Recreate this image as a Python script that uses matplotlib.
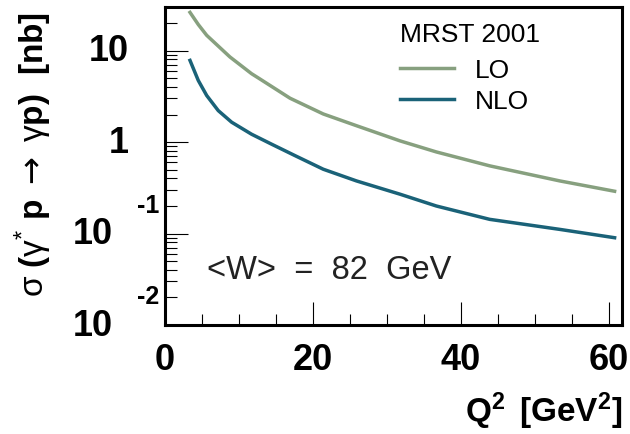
import matplotlib
matplotlib.use("Agg")
import matplotlib.pyplot as plt
import matplotlib.transforms as mtrans
import numpy as np

plt.rcParams['font.family'] = ['Liberation Sans', 'DejaVu Sans']
plt.rcParams['mathtext.fontset'] = 'custom'
plt.rcParams['mathtext.rm'] = 'Liberation Sans'
plt.rcParams['mathtext.bf'] = 'Liberation Sans:bold'
plt.rcParams['mathtext.it'] = 'Liberation Sans:italic'
plt.rcParams['mathtext.sf'] = 'DejaVu Sans'
plt.rcParams['mathtext.default'] = 'rm'

# Q^2 values [GeV^2] and cross sections [nb]
q2_lo = [3.38, 4.5, 5.64, 8.78, 11.7, 12.8, 16.9, 21.4, 25.9, 31.8, 36.7, 43.9, 53.4, 60.8]
sigma_lo = [26.2, 19.3, 14.7, 8.53, 5.6, 4.92, 3.02, 2.03, 1.51, 1.03, 0.78, 0.55, 0.376, 0.29]
q2_nlo = [3.38, 4.5, 5.64, 7.2, 9.01, 11.7, 14.4, 17.6, 21.4, 25.9, 31.8, 36.7, 43.9, 53.4, 60.8]
sigma_nlo = [7.82, 4.72, 3.23, 2.21, 1.65, 1.22, 0.95, 0.71, 0.505, 0.376, 0.269, 0.20, 0.143, 0.111, 0.090]

col_lo = '#87a07f'
col_nlo = '#1a6278'

x_major = [0, 20, 40, 60]
x_labels = ['0', '20', '40', '60']

fig = plt.figure(figsize=(6.3, 4.35), dpi=100)
ax = fig.add_axes([165/630, 1-326/435, 457/630, 318/435])

ax.plot(q2_lo, sigma_lo, color=col_lo, lw=2.5, label='LO')
ax.plot(q2_nlo, sigma_nlo, color=col_nlo, lw=2.5, label='NLO')

ax.set_yscale('log')
ax.set_xlim(0, 61.8)
ax.set_ylim(0.01, 30)

for s in ['left', 'bottom', 'right', 'top']:
    ax.spines[s].set_linewidth(2.2)

ax.set_xticks(x_major)
ax.set_xticklabels(x_labels, fontsize=26, fontweight='bold')
ax.set_xticks(np.arange(5, 61, 5), minor=True)
ax.tick_params(axis='x', which='major', direction='in', length=16.5, width=0.8, pad=12)
ax.tick_params(axis='x', which='minor', direction='in', length=8, width=0.8)
ax.tick_params(axis='y', which='major', direction='in', length=16.5, width=0.8)
ax.tick_params(axis='y', which='minor', direction='in', length=8.5, width=0.8)
ax.yaxis.set_major_locator(matplotlib.ticker.LogLocator(base=10, numticks=10))
ax.yaxis.set_minor_locator(matplotlib.ticker.LogLocator(base=10, subs=np.arange(2, 10), numticks=10))
ax.yaxis.set_major_formatter(matplotlib.ticker.NullFormatter())
ax.yaxis.set_minor_formatter(matplotlib.ticker.NullFormatter())

# ROOT style y tick labels
ytr = ax.get_yaxis_transform()
ax.text(-0.080, 10, '10', transform=ytr, ha='right', va='center', fontsize=26, fontweight='bold')
ax.text(-0.080, 1, '1', transform=ytr, ha='right', va='center', fontsize=26, fontweight='bold')
for val, exp in [(0.1, '-1'), (0.01, '-2')]:
    ax.text(-0.113, val, '10', transform=ytr, ha='right', va='center', fontsize=26, fontweight='bold')
    up = mtrans.offset_copy(ytr, fig=fig, x=0, y=29, units='dots')
    ax.text(-0.013, val, exp, transform=up, ha='right', va='center', fontsize=18, fontweight='bold')

leg = ax.legend(title='MRST 2001', loc='upper left', bbox_to_anchor=(0.514, 0.953),
                frameon=False, fontsize=19, title_fontsize=19, handlelength=2.05,
                handletextpad=0.8, labelspacing=0.29, borderpad=0, borderaxespad=0,
                alignment='left')
leg._legend_box.sep = 8.5

ax.text(0.092, 0.173, '<W>  =  82  GeV', transform=ax.transAxes, fontsize=23.5,
        ha='left', va='center', color='#222222')

fig.text(33/630, 1-12/435, r'$\sigma$ ($\gamma^{*}$ p $\mathsf{\rightarrow}$ $\gamma$p)  [nb]',
         rotation=90, ha='center', va='top', fontsize=24, fontweight='bold')
fig.text(622/630, 1-422/435, r'$\mathbf{Q^{2}\ \,[GeV^{2}]}$', ha='right', va='baseline', fontsize=24)

fig.savefig('out.png', dpi=100)
